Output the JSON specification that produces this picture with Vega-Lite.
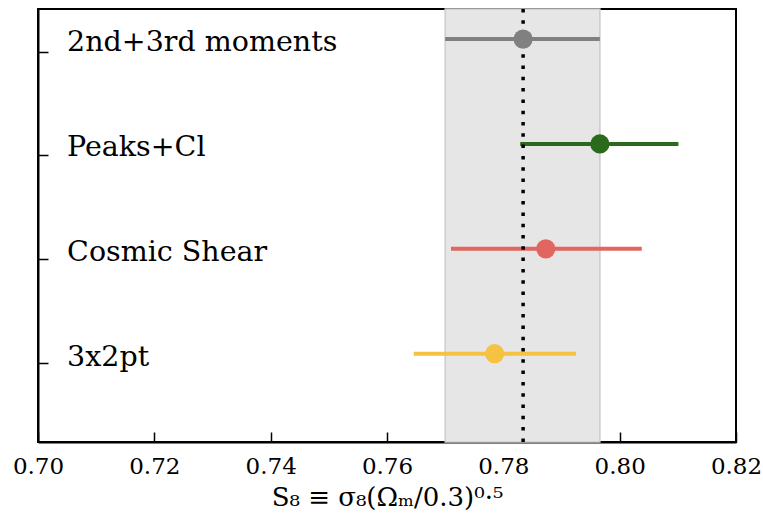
{
  "$schema": "https://vega.github.io/schema/vega-lite/v6.json",
  "width": 698,
  "height": 433,
  "autosize": "none",
  "padding": {"left": 38, "top": 9, "right": 27, "bottom": 78},
  "background": "white",
  "config": {
    "view": {"stroke": "black", "strokeWidth": 2},
    "axis": {"grid": false}
  },
  "datasets": {
    "probes": [
      {"probe": "2nd+3rd moments", "pos": 3.12, "s8": 0.7834, "lo": 0.7700, "hi": 0.7966},
      {"probe": "Peaks+Cl", "pos": 2.11, "s8": 0.7966, "lo": 0.7829, "hi": 0.8101},
      {"probe": "Cosmic Shear", "pos": 1.10, "s8": 0.7873, "lo": 0.7710, "hi": 0.8038},
      {"probe": "3x2pt", "pos": 0.09, "s8": 0.7785, "lo": 0.7646, "hi": 0.7925}
    ],
    "band": [{"lo": 0.7700, "hi": 0.7966, "mid": 0.7834}]
  },
  "layer": [
    {
      "data": {"name": "band"},
      "mark": {"type": "rect", "fill": "#e6e6e6", "stroke": "#cccccc", "strokeWidth": 1.5},
      "encoding": {
        "x": {"field": "lo", "type": "quantitative", "scale": {"domain": [0.70, 0.82], "nice": false, "zero": false},
          "axis": {
            "values": [0.70, 0.72, 0.74, 0.76, 0.78, 0.80, 0.82],
            "format": ".2f",
            "labelFlush": false,
            "labelFont": "DejaVu Serif", "labelFontSize": 23, "labelColor": "black",
            "labelPadding": 23,
            "tickSize": -10, "tickColor": "black", "tickWidth": 1.5,
            "domainColor": "black", "domainWidth": 2,
            "title": "S₈ ≡ σ₈(Ωₘ/0.3)⁰·⁵",
            "titleFont": "DejaVu Serif", "titleFontSize": 26, "titleFontWeight": "normal", "titleColor": "black",
            "titlePadding": 6
          }
        },
        "x2": {"field": "hi"}
      }
    },
    {
      "data": {"name": "probes"},
      "mark": {"type": "rule", "strokeWidth": 4},
      "encoding": {
        "x": {"field": "lo", "type": "quantitative"},
        "x2": {"field": "hi"},
        "y": {"field": "pos", "type": "quantitative", "scale": {"domain": [-0.76, 3.41], "nice": false, "zero": false},
          "axis": {
            "values": [0, 1, 2, 3], "labels": false, "title": null,
            "tickSize": -10, "tickColor": "black", "tickWidth": 1.5,
            "domainColor": "black", "domainWidth": 2
          }
        },
        "color": {"field": "probe", "type": "nominal", "legend": null,
          "scale": {"domain": ["2nd+3rd moments", "Peaks+Cl", "Cosmic Shear", "3x2pt"], "range": ["#808080", "#2b6a1a", "#e0665f", "#f5c242"]}}
      }
    },
    {
      "data": {"name": "band"},
      "mark": {"type": "rule", "color": "black", "strokeWidth": 3.5, "strokeDash": [3.5, 7.8]},
      "encoding": {"x": {"field": "mid", "type": "quantitative"}}
    },
    {
      "data": {"name": "probes"},
      "mark": {"type": "circle", "size": 370, "opacity": 1},
      "encoding": {
        "x": {"field": "s8", "type": "quantitative"},
        "y": {"field": "pos", "type": "quantitative"},
        "color": {"field": "probe", "type": "nominal", "legend": null}
      }
    },
    {
      "data": {"name": "probes"},
      "mark": {"type": "text", "align": "left", "baseline": "middle", "dy": 3, "font": "DejaVu Serif", "fontSize": 28.5, "color": "black"},
      "encoding": {
        "x": {"datum": 0.705, "type": "quantitative"},
        "y": {"field": "pos", "type": "quantitative"},
        "text": {"field": "probe"}
      }
    }
  ]
}
